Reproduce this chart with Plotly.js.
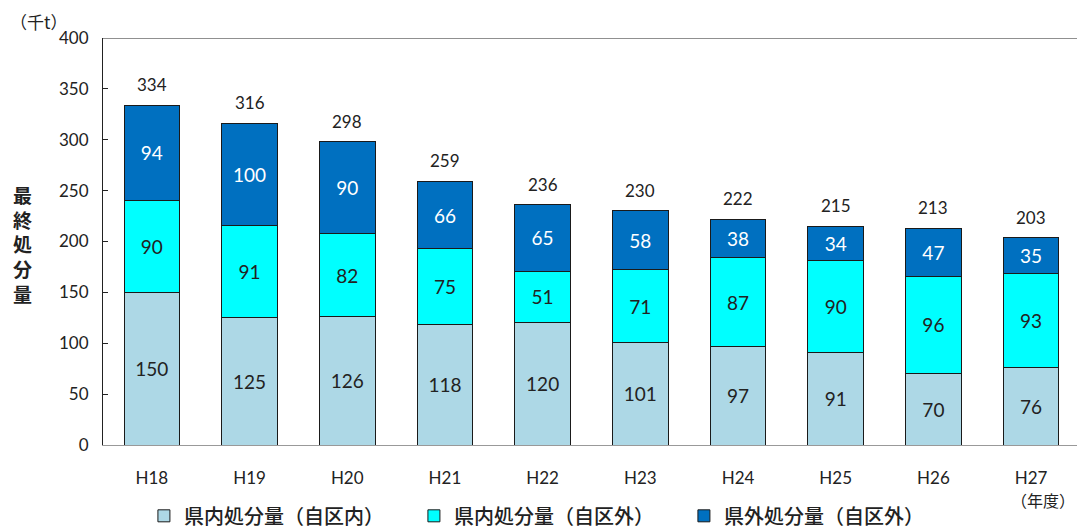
<!DOCTYPE html>
<html><head><meta charset="utf-8">
<script src="https://cdn.plot.ly/plotly-3.0.1.min.js"></script>
<style>body{margin:0;background:#fff}</style></head>
<body><div id="c" style="width:1077px;height:530px"></div>
<script>
const categories = ["H18","H19","H20","H21","H22","H23","H24","H25","H26","H27"];
const inPrefInside = [150,125,126,118,120,101,97,91,70,76];
const inPrefOutside = [90,91,82,75,51,71,87,90,96,93];
const outPref = [94,100,90,66,65,58,38,34,47,35];
const totals = [334,316,298,259,236,230,222,215,213,203];
const seriesNames = ["県内処分量（自区内）","県内処分量（自区外）","県外処分量（自区外）"];
const yTicks = [0,50,100,150,200,250,300,350,400];

const numFont = "Lato, 'Open Sans', sans-serif";
const jpFont = "'Noto Sans CJK JP', sans-serif";
const line = {color:"#1a1a1a", width:1};
function bar(y, name, color, tc){
  return {type:"bar", x:categories, y:y, name:name,
    marker:{color:color, line:line}, width:0.57,
    text:y.map(String), textposition:"inside", insidetextanchor:"middle",
    textangle:0, constraintext:"none",
    textfont:{family:numFont, size:19, color:tc},
    hoverinfo:"none"};
}
const data = [
  bar(inPrefInside, seriesNames[0], "#ADD8E6", "#222"),
  bar(inPrefOutside, seriesNames[1], "#00FFFF", "#222"),
  bar(outPref, seriesNames[2], "#0070C0", "#fff")
];
const totalAnn = categories.map((c,i)=>({x:c, y:totals[i], xref:"x", yref:"y",
  text:String(totals[i]), showarrow:false, yanchor:"bottom", yshift:8,
  font:{family:numFont, size:17, color:"#222"}}));
const layout = {
  width:1077, height:530, barmode:"stack", bargap:0.43,
  margin:{l:103, r:0, t:38, b:85, autoexpand:false},
  paper_bgcolor:"#fff", plot_bgcolor:"#fff",
  showlegend:true,
  legend:{orientation:"h", x:0.042, xanchor:"left", y:-0.174, yanchor:"middle",
    bgcolor:"rgba(0,0,0,0)",
    font:{family:jpFont, size:20, color:"#222", weight:500}, entrywidth:225, entrywidthmode:"pixels",
    traceorder:"normal"},
  xaxis:{range:[-0.5,9.47], tickvals:categories, showline:true, linecolor:"#999", linewidth:1,
    ticks:"", tickfont:{family:numFont, size:17, color:"#222"}, showgrid:false,
    fixedrange:true, ticklabelstandoff:18, automargin:false},
  yaxis:{range:[0,400], tickvals:yTicks, showline:true, linecolor:"#222", linewidth:1,
    ticks:"inside", ticklen:5, tickcolor:"#222", showgrid:false, zeroline:false,
    tickfont:{family:numFont, size:17, color:"#222"}, ticklabelstandoff:10, automargin:false},
  shapes:[{type:"line", xref:"paper", yref:"y", x0:0, x1:1, y0:400, y1:400, line:{color:"#222", width:1}}],
  annotations:totalAnn.concat([
    {xref:"paper", yref:"paper", x:-0.066, y:1.04, xanchor:"center", yanchor:"middle",
     text:"（千t）", showarrow:false, font:{family:jpFont, size:17, color:"#222"}},
    {xref:"paper", yref:"paper", x:-0.083, y:0.494, xanchor:"center", yanchor:"middle",
     text:"最<br>終<br>処<br>分<br>量", showarrow:false, font:{family:jpFont, size:19, color:"#222", weight:"bold"}},
    {xref:"paper", yref:"paper", x:1, y:-0.135, xanchor:"right", yanchor:"middle",
     text:"（年度）", showarrow:false, font:{family:jpFont, size:16, color:"#222"}}
  ])
};
Plotly.newPlot("c", data, layout, {displayModeBar:false, staticPlot:true});
</script></body></html>
